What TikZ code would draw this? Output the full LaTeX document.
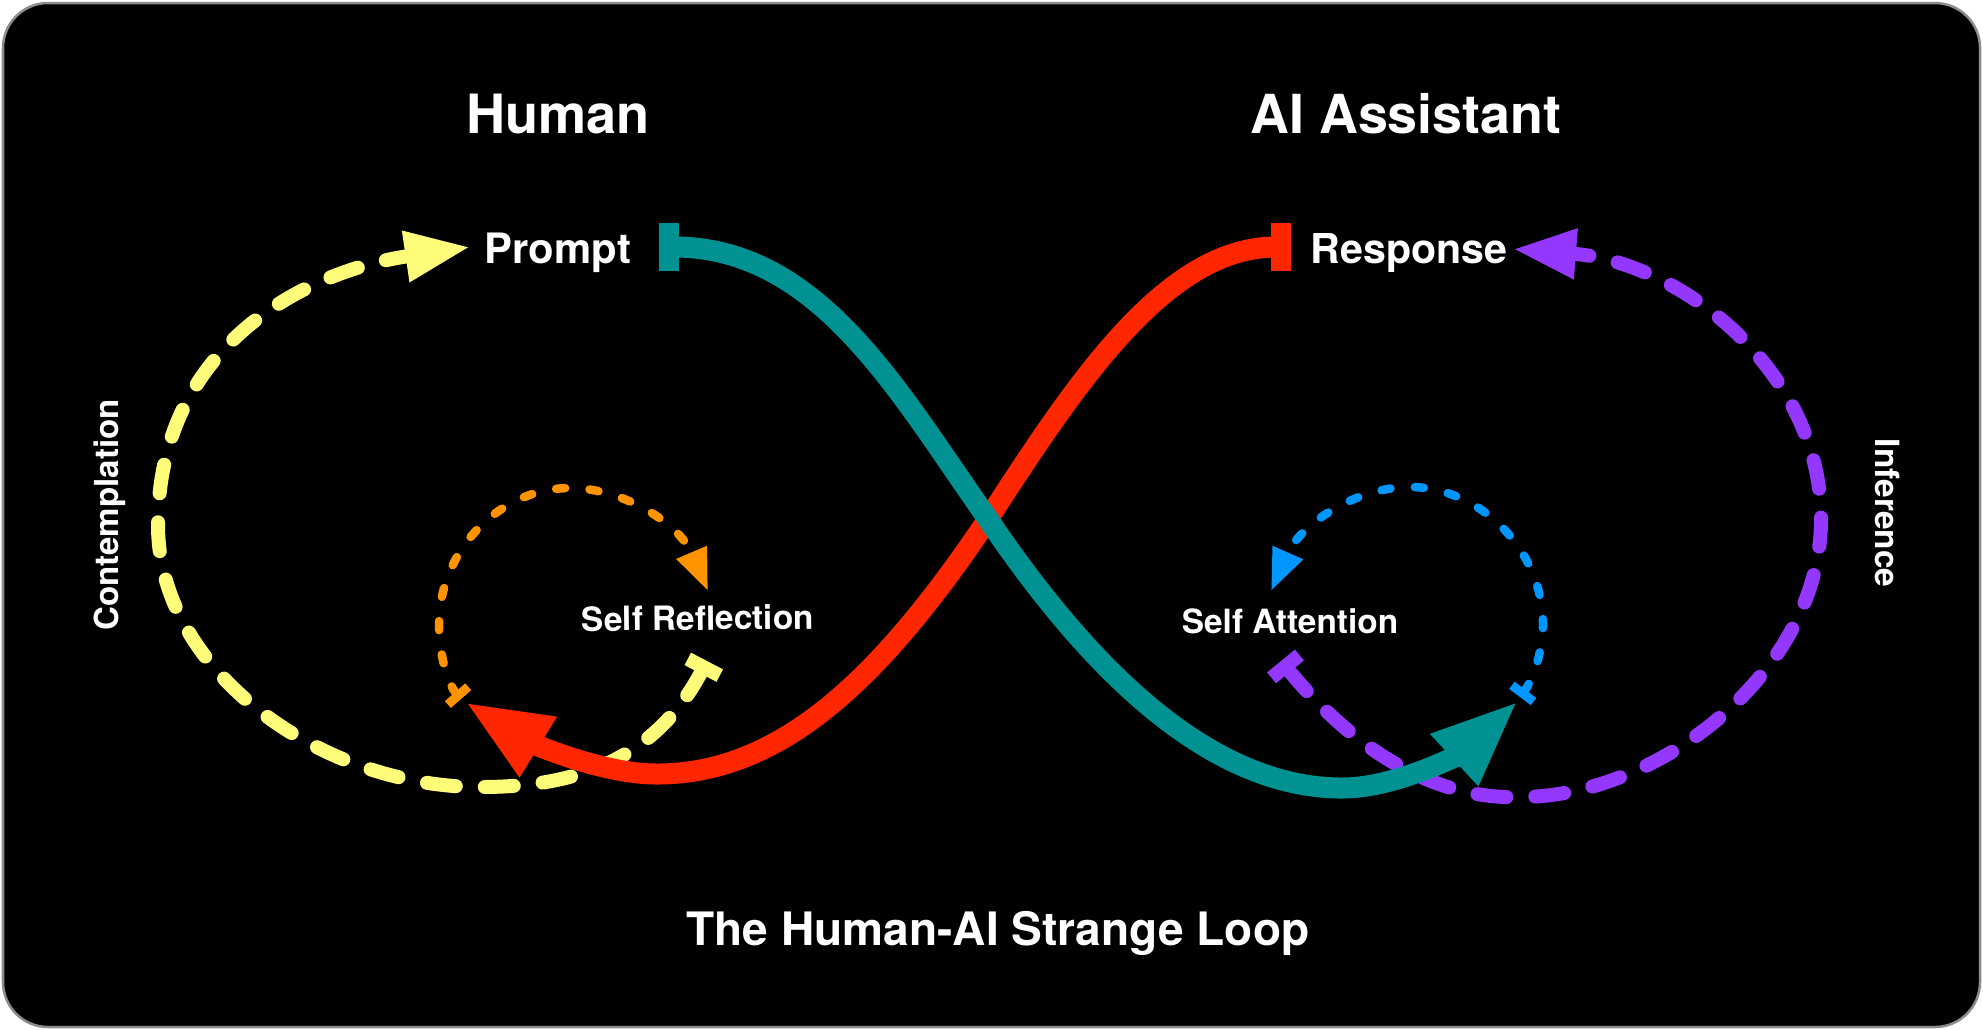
\documentclass[tikz,border=0pt]{standalone}
\usepackage{fontspec}
\setmainfont{TeX Gyre Heros}
\usetikzlibrary{arrows.meta}
\definecolor{tealline}{HTML}{009193}
\definecolor{redline}{HTML}{FF2600}
\definecolor{yellowline}{HTML}{FFFC79}
\definecolor{purpleline}{HTML}{9437FF}
\definecolor{orangeline}{HTML}{FF9300}
\definecolor{blueline}{HTML}{0096FF}
\newcommand{\lab}[2]{\fontsize{#1}{#1}\selectfont\bfseries #2}
\tikzset{
    word/.style={text=white, inner sep=0pt, anchor=base},
    bigloop/.style={line width=0.21cm},
    midloop/.style={line width=0.14cm, line cap=round, dash pattern=on 0.29cm off 0.29cm},
    tinyloop/.style={line width=0.085cm, line cap=round, dash pattern=on 0.09cm off 0.245cm}
}
\begin{document}
\begin{tikzpicture}[x=0.01cm,y=-0.01cm]
                \useasboundingbox (0,0) rectangle (1983,1029);
                \fill[white] (0,0) rectangle (1983,1029);
                \draw[fill=black, draw=gray!90, line width=0.025cm, rounded corners=0.45cm] (3,3) rectangle (1980,1027);
                \draw (558,133) node[word] (human) {\lab{15.4}{Human}};
                \draw (1406,133) node[word] (assistant) {\lab{15.3}{AI Assistant}};
                \draw (558,263) node[word] (prompt) {\lab{11.9}{Prompt}};
                \draw (1409,263) node[word] (response) {\lab{11.7}{Response}};
                \draw (998,945) node[word] (strangeloop) {\lab{13.1}{The Human-AI Strange Loop}};
                \draw (698,630) node[word, rotate=0.6] (reflection) {\lab{9.5}{Self Reflection}};
                \draw (1290,633) node[word] (attention) {\lab{9.5}{Self Attention}};
                \draw (118,515) node[word, rotate=90] (contemplation) {\lab{9.4}{Contemplation}};
                \draw (1875,513) node[word, rotate=-90] (inference) {\lab{9.5}{Inference}};
                \coordinate (tealstart) at (659,247);
                \coordinate (tealtip) at (1518,701);
                \coordinate (redstart) at (1291,247);
                \coordinate (redtip) at (465,702);
                \coordinate (crossing) at (988,519);
                \coordinate (yellowstart) at (707,661);
                \coordinate (yellowtip) at (470,247);
                \coordinate (purplestart) at (1281,661);
                \coordinate (purpletip) at (1513,249);
                \coordinate (orangestart) at (461,699);
                \coordinate (orangetip) at (708,591);
                \coordinate (bluestart) at (1520,697);
                \coordinate (bluetip) at (1271,591);
                \draw[midloop, color=yellowline, {Bar[width=0.36cm,line width=0.14cm]}-{Triangle[length=0.65cm,width=0.48cm]}] (yellowstart)
                    .. controls (650,770) and (560,787) .. (480,787)
                    .. controls (320,787) and (158,670) .. (158,525)
                    .. controls (158,350) and (300,272) .. (yellowtip);
                \draw[midloop, color=purpleline, {Bar[width=0.36cm,line width=0.14cm]}-{Triangle[length=0.63cm,width=0.47cm]}] (purplestart)
                    .. controls (1350,745) and (1430,800) .. (1520,797)
                    .. controls (1660,797) and (1821,670) .. (1821,519)
                    .. controls (1821,370) and (1680,262) .. (purpletip);
                \draw[tinyloop, color=orangeline, {Bar[width=0.27cm,line width=0.09cm]}-{Triangle[length=0.42cm,width=0.31cm]}] (orangestart)
                    .. controls (447,683) and (439,652) .. (439,625)
                    .. controls (439,550) and (500,488) .. (570,488)
                    .. controls (625,488) and (680,525) .. (orangetip);
                \draw[tinyloop, color=blueline, {Bar[width=0.27cm,line width=0.09cm]}-{Triangle[length=0.42cm,width=0.31cm]}] (bluestart)
                    .. controls (1532,681) and (1543,652) .. (1543,625)
                    .. controls (1543,550) and (1480,487) .. (1410,487)
                    .. controls (1355,487) and (1300,525) .. (bluetip);
                \draw[bigloop, color=redline, {Bar[width=0.48cm,line width=0.2cm]}-{Triangle[length=0.86cm,width=0.645cm]}] (redstart)
                    .. controls (1165,247) and (1075,385) .. (crossing)
                    .. controls (880,680) and (780,774) .. (657,774)
                    .. controls (600,774) and (530,742) .. (redtip);
                \draw[bigloop, color=tealline, {Bar[width=0.48cm,line width=0.2cm]}-{Triangle[length=0.87cm,width=0.645cm]}] (tealstart)
                    .. controls (820,247) and (900,395) .. (crossing)
                    .. controls (1090,670) and (1210,788) .. (1342,788)
                    .. controls (1400,788) and (1465,750) .. (tealtip);
            \end{tikzpicture}
\end{document}
